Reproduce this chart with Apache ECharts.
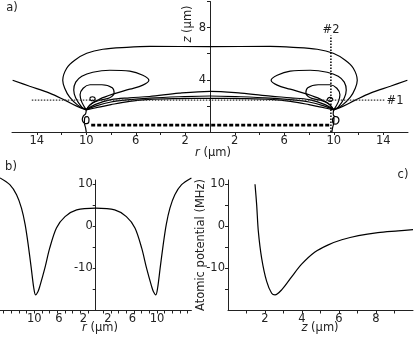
<!DOCTYPE html>
<html><head><meta charset="utf-8">
<script src="https://cdn.jsdelivr.net/npm/echarts@6/dist/echarts.min.js"></script>
<style>html,body{margin:0;padding:0;background:#fff}#c{width:415px;height:337px}</style>
</head><body><div id="c"></div>
<script>
// ---------- Panel a: contour lines, [r (um), z (um)] ----------
const outerLoop = [[-10.0,1.7],[-10.69,2.06],[-11.34,2.67],[-11.74,3.36],[-11.9,3.97],[-11.58,4.89],[-10.93,5.5],[-9.96,6.03],[-8.66,6.34],[-6.72,6.49],[-4.86,6.56],[0,6.54],[4.86,6.56],[6.72,6.49],[8.66,6.34],[9.96,6.03],[10.93,5.5],[11.58,4.89],[11.9,3.97],[11.74,3.36],[11.34,2.67],[10.69,2.06],[10.0,1.7]];
const midLoopL = [[-10.0,1.7],[-10.36,1.91],[-10.85,2.6],[-11.01,3.21],[-10.85,3.82],[-10.36,4.27],[-9.47,4.58],[-8.1,4.73],[-6.48,4.66],[-5.43,4.35],[-4.94,3.97],[-5.43,3.59],[-6.48,3.28],[-7.85,2.9],[-8.91,2.52],[-9.72,2.06],[-10.0,1.7]];
const midLoopR = [[10.0,1.7],[10.36,1.91],[10.85,2.6],[11.01,3.21],[10.85,3.82],[10.36,4.27],[9.47,4.58],[8.1,4.73],[6.48,4.66],[5.43,4.35],[4.94,3.97],[5.43,3.59],[6.48,3.28],[7.85,2.9],[8.91,2.52],[9.72,2.06],[10.0,1.7]];
const innerLoopL = [[-10.0,1.7],[-10.36,2.29],[-10.5,2.85],[-10.25,3.35],[-9.7,3.62],[-8.74,3.62],[-7.9,3.4],[-7.75,3.0],[-8.1,2.62],[-8.91,2.44],[-9.55,2.21],[-10.0,1.7]];
const innerLoopR = [[10.0,1.7],[10.36,2.29],[10.5,2.85],[10.25,3.35],[9.7,3.62],[8.74,3.62],[7.9,3.4],[7.75,3.0],[8.1,2.62],[8.91,2.44],[9.55,2.21],[10.0,1.7]];
const eyeL = [[-9.72,2.55],[-9.65,2.66],[-9.5,2.7],[-9.35,2.66],[-9.28,2.55],[-9.35,2.44],[-9.5,2.4],[-9.65,2.44],[-9.72,2.55]];
const eyeR = [[9.48,2.5],[9.55,2.61],[9.7,2.65],[9.85,2.61],[9.92,2.5],[9.85,2.39],[9.7,2.35],[9.55,2.39],[9.48,2.5]];
const wingL = [[-15.95,3.97],[-14.57,3.51],[-12.96,2.98],[-11.74,2.44],[-10.77,1.98],[-10.0,1.7]];
const wingR = [[15.95,3.97],[14.57,3.51],[12.96,2.98],[11.74,2.44],[10.77,1.98],[10.0,1.7]];
const fanA = [[-10.0,1.7],[-9.3,2.1],[-8.0,2.48],[-6.5,2.62],[-4.9,2.72],[-2.5,2.98],[0,3.12],[2.5,2.98],[4.9,2.75],[6.5,2.62],[8.0,2.48],[9.3,2.1],[10.0,1.7]];
const fanB = [[-10.0,1.7],[-9.2,2.0],[-8.0,2.3],[-6.5,2.48],[-4.9,2.6],[-2.5,2.7],[0,2.76],[2.5,2.7],[4.9,2.6],[6.5,2.48],[8.0,2.3],[9.2,2.0],[10.0,1.7]];
const fanC = [[-10.0,1.7],[-9.0,1.9],[-8.0,2.1],[-6.5,2.35],[-4.9,2.5],[-2.5,2.56],[0,2.58],[2.5,2.56],[4.9,2.5],[6.5,2.35],[8.0,2.1],[9.0,1.9],[10.0,1.7]];
const curlL = [[-10.0,1.7],[-10.05,1.4],[-10.25,1.2],[-10.32,0.95],[-10.22,0.72],[-10.0,0.64],[-9.8,0.75],[-9.78,0.98],[-9.92,1.18],[-10.12,1.1],[-10.15,0.7],[-10.05,0.3],[-10.0,0.0]];
const curlR = [[10.0,1.7],[9.95,1.4],[10.05,1.2],[10.3,1.15],[10.42,0.92],[10.32,0.68],[10.1,0.6],[9.92,0.72],[9.9,0.98],[10.02,1.15],[10.0,0.7],[9.9,0.3],[9.85,0.0]];
const electrode = [[-9.6,0.53],[9.7,0.53]];
const cut1 = [[-14.4,2.44],[14.2,2.44]];
const cut2 = [[9.77,0],[9.77,7.4]];
const aXTicks = [-14,-12,-10,-8,-6,-4,-2,2,4,6,8,10,12,14];
const aXLabels = [-14,-10,-6,-2,2,6,10,14];
const aYTicks = [2,4,6,8,10];
const aYLabels = [4,8];

// ---------- Panel b: potential along cut #1, [r (um), U (MHz)] ----------
const bCurve = [[-15.6,11.5],[-14.0,9.9],[-12.9,7.5],[-12.1,4.3],[-11.5,0.4],[-11.0,-4.4],[-10.5,-10],[-10.1,-14.6],[-9.8,-16.3],[-9.4,-15.5],[-9.1,-14.2],[-8.3,-10],[-7.5,-5.2],[-6.4,-0.4],[-5.0,2.3],[-3.1,3.9],[0,4.3],[3.1,3.9],[5.0,2.3],[6.4,-0.4],[7.5,-5.2],[8.3,-10],[9.1,-14.2],[9.4,-15.5],[9.8,-16.3],[10.1,-14.6],[10.5,-10],[11.0,-4.4],[11.5,0.4],[12.1,4.3],[12.9,7.5],[14.0,9.9],[15.6,11.5]];
const bXTicks = [-15,-13.75,-12.5,-11.25,-10,-8.75,-7.5,-6.25,-5,-3.75,-2.5,-1.25,1.25,2.5,3.75,5,6.25,7.5,8.75,10,11.25,12.5,13.75,15];
const bXLabels = [-10,-6,-2,2,6,10];
const uTicks = [-15,-10,-5,0,5,10];
const uLabels = [-10,0,10];

// ---------- Panel c: potential along cut #2, [z (um), U (MHz)] ----------
const cCurve = [[1.46,10],[1.55,5.1],[1.64,-1.2],[1.82,-7.6],[2.09,-13.1],[2.36,-15.9],[2.54,-16.3],[2.9,-15.1],[3.44,-12],[3.98,-9],[4.7,-6.1],[5.42,-4.4],[6.15,-3.2],[7.05,-2.2],[8.1,-1.5],[9.2,-1.1],[10.0,-0.8]];
const cXTicks = [1,2,3,4,5,6,7,8,9];
const cXLabels = [2,4,6,8];

const FONT = 'DejaVu Sans';
const FS = 11.5;
const ink = '#000';
function contour(data, xi) {
  return {type:'line', xAxisIndex:xi||0, yAxisIndex:xi||0, data:data, showSymbol:false, symbol:'none',
    smooth:0.35, clip:false, silent:true, animation:false, lineStyle:{color:ink, width:1.2}};
}
function straight(data, style) {
  return {type:'line', xAxisIndex:0, yAxisIndex:0, data:data, showSymbol:false, symbol:'none',
    silent:true, animation:false, lineStyle:style};
}
const axisLine = {onZero:false, lineStyle:{color:'#222', width:1}};
const labelStyle = {color:'#222', fontFamily:FONT, fontSize:FS};
function txt(x, y, text, rot) {
  return {type:'text', x:x, y:y, rotation:rot||0, style:{text:text, font:FS+'px '+FONT, fill:'#222',
    align:'center', verticalAlign:'middle', textAlign:'center', textVerticalAlign:'middle',
    rich:{i:{fontStyle:'italic', fontFamily:FONT, fontSize:FS, fill:'#222'}}}};
}

const chart = echarts.init(document.getElementById('c'), null, {renderer:'canvas'});
const series = [
  contour(outerLoop), contour(midLoopL), contour(midLoopR), contour(innerLoopL), contour(innerLoopR),
  contour(eyeL), contour(eyeR), contour(wingL), contour(wingR),
  contour(fanA), contour(fanB), contour(fanC), contour(curlL), contour(curlR),
  straight(electrode, {color:ink, width:2.6, type:[4,2]}),
  straight(cut1, {color:'#333', width:1.2, type:[1.5,1.5]}),
  straight(cut2, {color:ink, width:1.5, type:[1.5,1.5]}),
  Object.assign(contour(bCurve,1), {smooth:0.3}),
  Object.assign(contour(cCurve,2), {smooth:0.3})
];
chart.setOption({
  animation:false,
  grid:[
    {left:12, right:7, top:1.5, bottom:205, outerBoundsMode:'none', containLabel:false},
    {left:0, width:191.4, top:180, bottom:26.5, outerBoundsMode:'none', containLabel:false},
    {left:228, right:2, top:180, bottom:26.5, outerBoundsMode:'none', containLabel:false}
  ],
  xAxis:[
    {gridIndex:0, type:'value', min:-16, max:16, axisLine:axisLine, splitLine:{show:false},
     axisTick:{customValues:aXTicks, length:3, lineStyle:{color:'#222'}},
     axisLabel:Object.assign({customValues:aXLabels, margin:3, formatter:v=>String(Math.abs(v))}, labelStyle)},
    {gridIndex:1, type:'value', min:-15.6, max:15.6, axisLine:axisLine, splitLine:{show:false},
     axisTick:{customValues:bXTicks, length:3, lineStyle:{color:'#222'}},
     axisLabel:Object.assign({customValues:bXLabels, margin:3, formatter:v=>String(Math.abs(v))}, labelStyle)},
    {gridIndex:2, type:'value', min:0, max:10, axisLine:axisLine, splitLine:{show:false},
     axisTick:{customValues:cXTicks, length:3, lineStyle:{color:'#222'}},
     axisLabel:Object.assign({customValues:cXLabels, margin:3}, labelStyle)}
  ],
  yAxis:[
    {gridIndex:0, type:'value', min:0, max:10, position:'left', offset:-198, axisLine:axisLine, splitLine:{show:false},
     axisTick:{customValues:aYTicks, length:3, lineStyle:{color:'#222'}},
     axisLabel:Object.assign({customValues:aYLabels, margin:4}, labelStyle)},
    {gridIndex:1, type:'value', min:-20, max:11, position:'left', offset:-95.7, axisLine:axisLine, splitLine:{show:false},
     axisTick:{customValues:uTicks, length:3, lineStyle:{color:'#222'}},
     axisLabel:Object.assign({customValues:uLabels, margin:3}, labelStyle)},
    {gridIndex:2, type:'value', min:-20, max:11, axisLine:axisLine, splitLine:{show:false},
     axisTick:{customValues:uTicks, length:3, lineStyle:{color:'#222'}},
     axisLabel:Object.assign({customValues:uLabels, margin:3}, labelStyle)}
  ],
  series:series,
  graphic:[
    txt(12, 8, 'a)'), txt(11, 167, 'b)'), txt(403, 175, 'c)'),
    txt(395, 101, '#1'), txt(331, 30, '#2'),
    txt(188, 24, '{i|z} (μm)', Math.PI/2),
    txt(213, 153, '{i|r} (μm)'),
    txt(100, 328, '{i|r} (μm)'),
    txt(320, 328, '{i|z} (μm)'),
    txt(201.5, 245, 'Atomic potential (MHz)', Math.PI/2)
  ]
});
</script></body></html>
